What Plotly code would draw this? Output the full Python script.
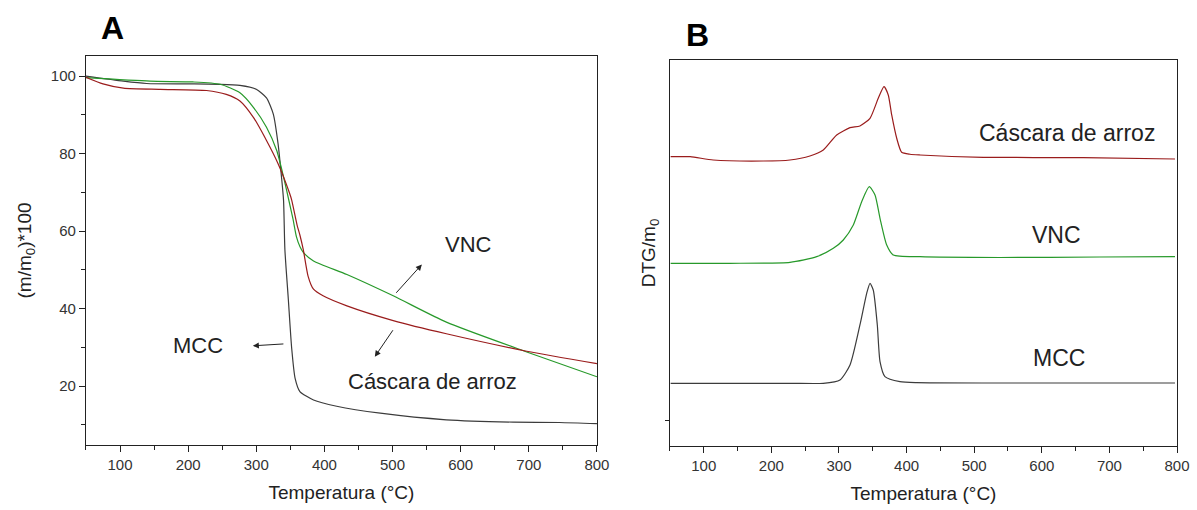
import plotly.graph_objects as go

# ---------------- Panel A: TGA ----------------
mcc_T = [50, 105, 139, 200, 247, 276, 300, 315, 325, 332, 337, 340, 342, 347, 352, 357, 364, 384, 418, 482, 579, 677, 745, 800]
mcc_m = [100, 98.7, 98.1, 98.0, 97.9, 97.6, 96.6, 94.4, 90.2, 82.5, 74, 68, 55.2, 42.5, 29.7, 22, 18.6, 16.4, 14.8, 13.0, 11.3, 10.7, 10.6, 10.3]

cas_T = [50, 75, 105, 159, 227, 256, 276, 296, 315, 332, 349, 352, 360, 364, 369, 376, 384, 398, 433, 501, 579, 697, 800]
cas_m = [99.7, 98.0, 96.9, 96.6, 96.3, 95.3, 93.6, 89.3, 83.4, 77.4, 69.7, 68, 61.5, 59, 55.2, 48.4, 45, 43.3, 40.7, 36.9, 33.5, 29.0, 25.8]

vnc_T = [50, 144, 207, 247, 276, 296, 315, 330, 340, 349, 354, 359, 364, 369, 384, 433, 501, 579, 697, 800]
vnc_m = [99.6, 98.7, 98.5, 97.9, 95.7, 91.9, 86.8, 80.8, 74, 67, 63, 58.5, 56, 54.5, 52.3, 48.8, 43.3, 36.5, 28.8, 22.4]

# ---------------- Panel B: DTG (arbitrary units, offset) ----------------
dcas_T = [51, 80, 114, 188, 227.5, 257, 276.8, 296.6, 316.3, 331, 345.9, 358.1, 366.6, 372.9, 378, 385.4, 392.7, 405, 419.8, 513.5, 661.4, 797]
dcas_v = [289.3, 289.3, 286, 285, 286, 290, 296, 311, 318.3, 320, 327.7, 347.7, 359.3, 351, 331, 307.7, 293.7, 291.7, 291, 288.7, 288.3, 287]

dvnc_T = [51, 138.8, 227.5, 267, 291.6, 306.4, 321.2, 333.6, 344.8, 353.3, 360.7, 370.6, 380.3, 419.8, 538, 686, 797]
dvnc_v = [182.7, 182.7, 183.7, 189.3, 197.7, 206, 221, 244.3, 259.3, 251, 227.7, 201, 191, 189.3, 188.5, 189, 189.3]

dmcc_T = [51, 227.5, 276.8, 301.5, 316.3, 331, 341, 345.9, 350.7, 356.7, 360.7, 368, 390.2, 414.9, 538, 797]
dmcc_v = [62.7, 62.7, 62.7, 66, 81, 121, 152.7, 162.7, 156, 121, 84.3, 69.3, 64.3, 63.3, 63, 63]

x_ticks = [100, 200, 300, 400, 500, 600, 700, 800]
yA_ticks = [20, 40, 60, 80, 100]

C_MCC = "#3c3c3c"
C_CAS = "#9a1c1c"
C_VNC = "#27992a"
FONT = "Arial, Liberation Sans, sans-serif"

fig = go.Figure()
lw = 1.2
def line(c):
    return dict(color=c, width=lw, shape="spline", smoothing=0.6)

fig.add_trace(go.Scatter(x=mcc_T, y=mcc_m, mode="lines", line=line(C_MCC), xaxis="x", yaxis="y", showlegend=False))
fig.add_trace(go.Scatter(x=vnc_T, y=vnc_m, mode="lines", line=line(C_VNC), xaxis="x", yaxis="y", showlegend=False))
fig.add_trace(go.Scatter(x=cas_T, y=cas_m, mode="lines", line=line(C_CAS), xaxis="x", yaxis="y", showlegend=False))

fig.add_trace(go.Scatter(x=dcas_T, y=dcas_v, mode="lines", line=line(C_CAS), xaxis="x2", yaxis="y2", showlegend=False))
fig.add_trace(go.Scatter(x=dvnc_T, y=dvnc_v, mode="lines", line=line(C_VNC), xaxis="x2", yaxis="y2", showlegend=False))
fig.add_trace(go.Scatter(x=dmcc_T, y=dmcc_v, mode="lines", line=line(C_MCC), xaxis="x2", yaxis="y2", showlegend=False))

def axis(**kw):
    d = dict(showline=True, linecolor="#222", linewidth=1.2, mirror=True, showgrid=False, zeroline=False,
             ticks="outside", tickcolor="#222", ticklen=6, tickwidth=1, automargin=False,
             tickfont=dict(family=FONT, size=15, color="#333"))
    d.update(kw)
    return d

title_font = dict(family=FONT, size=19, color="#222")

fig.update_layout(
    width=1197, height=510,
    margin=dict(l=0, r=0, t=0, b=0, autoexpand=False),
    paper_bgcolor="white", plot_bgcolor="white",
    xaxis=axis(domain=[0.0718, 0.4987], range=[50, 800], tickvals=x_ticks,
               minor=dict(dtick=50, ticks="outside", ticklen=4, tickcolor="#222"),
               title=dict(text="Temperatura (°C)", font=title_font, standoff=13), anchor="y"),
    yaxis=axis(domain=[0.1275, 0.8902], range=[4.8, 105.2], tickvals=yA_ticks,
               minor=dict(dtick=10, ticks="outside", ticklen=4, tickcolor="#222"),
               title=dict(text="(m/m<sub>0</sub>)*100", font=title_font, standoff=14), anchor="x"),
    xaxis2=axis(domain=[0.5597, 0.9833], range=[50, 800], tickvals=x_ticks,
                minor=dict(dtick=50, ticks="outside", ticklen=4, tickcolor="#222"),
                title=dict(text="Temperatura (°C)", font=title_font, standoff=13), anchor="y2"),
    yaxis2=axis(domain=[0.1255, 0.8824], range=[0, 386], tickvals=[25], showticklabels=False, ticklen=4,
                title=dict(text="DTG/m<sub>0</sub>", font=title_font, standoff=4), anchor="x2"),
)

ann_font = dict(family=FONT, size=22, color="#222")
ann_font_b = dict(family=FONT, size=23, color="#222")
fig.add_annotation(text="<b>A</b>", xref="paper", yref="paper", x=112/1197, y=1-28/510, showarrow=False,
                   font=dict(family=FONT, size=32, color="#000"), xanchor="center", yanchor="middle")
fig.add_annotation(text="<b>B</b>", xref="paper", yref="paper", x=697/1197, y=1-35/510, showarrow=False,
                   font=dict(family=FONT, size=32, color="#000"), xanchor="center", yanchor="middle")

# Panel A labels
fig.add_annotation(text="VNC", x=611, y=56.5, xref="x", yref="y", showarrow=False, font=ann_font)
fig.add_annotation(text="MCC", x=214, y=30.4, xref="x", yref="y", showarrow=False, font=ann_font)
fig.add_annotation(text="Cáscara de arroz", x=559, y=21.2, xref="x", yref="y", showarrow=False, font=ann_font)
for (hx, hy, tx, ty) in [(543, 51.4, 503.5, 43.7), (474, 27.6, 502, 34.8), (295, 30.4, 342, 30.9)]:
    fig.add_annotation(x=hx, y=hy, ax=tx, ay=ty, xref="x", yref="y", axref="x", ayref="y", text="",
                       showarrow=True, arrowhead=2, arrowsize=1.2, arrowwidth=1, arrowcolor="#222")

# Panel B labels
fig.add_annotation(text="Cáscara de arroz", x=637, y=313, xref="x2", yref="y2", showarrow=False, font=ann_font_b)
fig.add_annotation(text="VNC", x=622, y=211, xref="x2", yref="y2", showarrow=False, font=ann_font_b)
fig.add_annotation(text="MCC", x=625, y=88, xref="x2", yref="y2", showarrow=False, font=ann_font_b)

fig.write_html("out.html")
